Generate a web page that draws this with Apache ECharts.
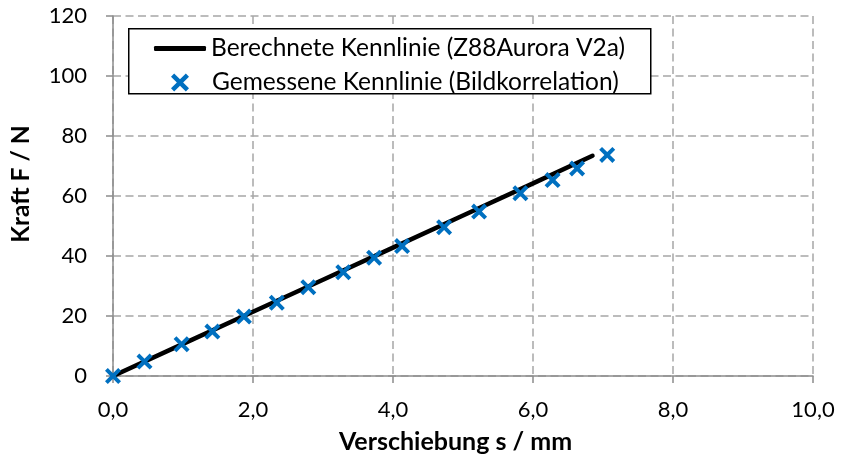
<!DOCTYPE html>
<html>
<head>
<meta charset="utf-8">
<script src="https://cdn.jsdelivr.net/npm/echarts@6/dist/echarts.min.js"></script>
<style>
  html, body { margin: 0; padding: 0; background: #fff; }
  #chart { width: 841px; height: 461px; }
</style>
</head>
<body>
<div id="chart"></div>
<script>
// Calculated characteristic curve (Z88Aurora), displacement in mm / force in N
const calcS = [0, 1, 2, 3, 4, 5, 6, 6.85];
const calcF = [0, 10.7, 21.4, 32.1, 42.8, 53.5, 64.2, 73.4];

// Measured characteristic curve (image correlation)
const measS = [0, 0.45, 0.98, 1.42, 1.87, 2.34, 2.79, 3.29, 3.73, 4.13, 4.73, 5.23, 5.82, 6.28, 6.63, 7.06];
const measF = [0, 4.8, 10.6, 14.8, 19.8, 24.4, 29.6, 34.6, 39.4, 43.3, 49.6, 54.8, 60.9, 65.3, 69.2, 73.7];

const seriesNames = ['Berechnete Kennlinie (Z88Aurora V2a)', 'Gemessene Kennlinie (Bildkorrelation)'];
const xAxisName = 'Verschiebung s / mm';
const yAxisName = 'Kraft F / N';

const FONT = 'Lato';
const BLUE = '#0070c0';
const crossSymbol = 'path://M3.5,0 L10,6.5 L16.5,0 L20,3.5 L13.5,10 L20,16.5 L16.5,20 L10,13.5 L3.5,20 L0,16.5 L6.5,10 L0,3.5 Z';

const chart = echarts.init(document.getElementById('chart'), null, { renderer: 'canvas' });

const fmtComma = v => v.toFixed(1).replace('.', ',');
const gridLine = { show: true, lineStyle: { color: '#a6a6a6', type: [8, 4.5], width: 1.5 } };
const axisStroke = { color: '#8c8c8c', width: 1.5 };

chart.setOption({
  animation: false,
  backgroundColor: '#ffffff',
  textStyle: { fontFamily: FONT },
  grid: { left: 113, right: 28, top: 16, bottom: 85, containLabel: false },
  xAxis: {
    type: 'value', min: 0, max: 10, interval: 2,
    name: xAxisName, nameLocation: 'middle', nameGap: 53,
    nameTextStyle: { fontFamily: FONT, fontSize: 25, fontWeight: 'bold', color: '#000', padding: [0, 15, 0, 0] },
    axisLine: { show: true, lineStyle: axisStroke },
    axisTick: { show: true, length: 7, lineStyle: axisStroke },
    axisLabel: { fontFamily: FONT, fontSize: 22, color: '#000', margin: 23, formatter: fmtComma },
    splitLine: gridLine
  },
  yAxis: {
    type: 'value', min: 0, max: 120, interval: 20,
    name: yAxisName, nameLocation: 'middle', nameGap: 79,
    nameTextStyle: { fontFamily: FONT, fontSize: 24.5, fontWeight: 'bold', color: '#000', padding: [0, 0, 0, 24] },
    axisLine: { show: true, lineStyle: axisStroke },
    axisTick: { show: true, length: 7, lineStyle: axisStroke },
    axisLabel: { fontFamily: FONT, fontSize: 22, color: '#000', margin: 26 },
    splitLine: gridLine
  },
  graphic: [{
    type: 'rect', left: 128, top: 28, z: 90,
    shape: { width: 522, height: 65 },
    style: { fill: '#ffffff', stroke: '#000000', lineWidth: 1.5 }
  }],
  legend: [{
    data: [{ name: seriesNames[0], icon: 'roundRect', itemStyle: { color: '#000' } }],
    left: 149, top: 31, z: 100,
    itemWidth: 52, itemHeight: 5, itemGap: 0,
    textStyle: { fontFamily: FONT, fontSize: 24.5, color: '#000' },
    selectedMode: false
  }, {
    data: [seriesNames[1]],
    left: 166, top: 65, z: 100,
    itemWidth: 18, itemHeight: 18, itemGap: 0,
    textStyle: { fontFamily: FONT, fontSize: 24.5, color: '#000', padding: [0, 0, 0, 18] },
    selectedMode: false
  }],
  series: [{
    name: seriesNames[0],
    type: 'line',
    data: calcS.map((s, i) => [s, calcF[i]]),
    showSymbol: false, symbol: 'none',
    lineStyle: { color: '#000000', width: 4.5, cap: 'round' },
    itemStyle: { color: '#000000' },
    z: 3
  }, {
    name: seriesNames[1],
    type: 'scatter',
    data: measS.map((s, i) => [s, measF[i]]),
    symbol: crossSymbol, symbolSize: 16,
    itemStyle: { color: BLUE, opacity: 1 },
    z: 4
  }]
});
</script>
</body>
</html>
